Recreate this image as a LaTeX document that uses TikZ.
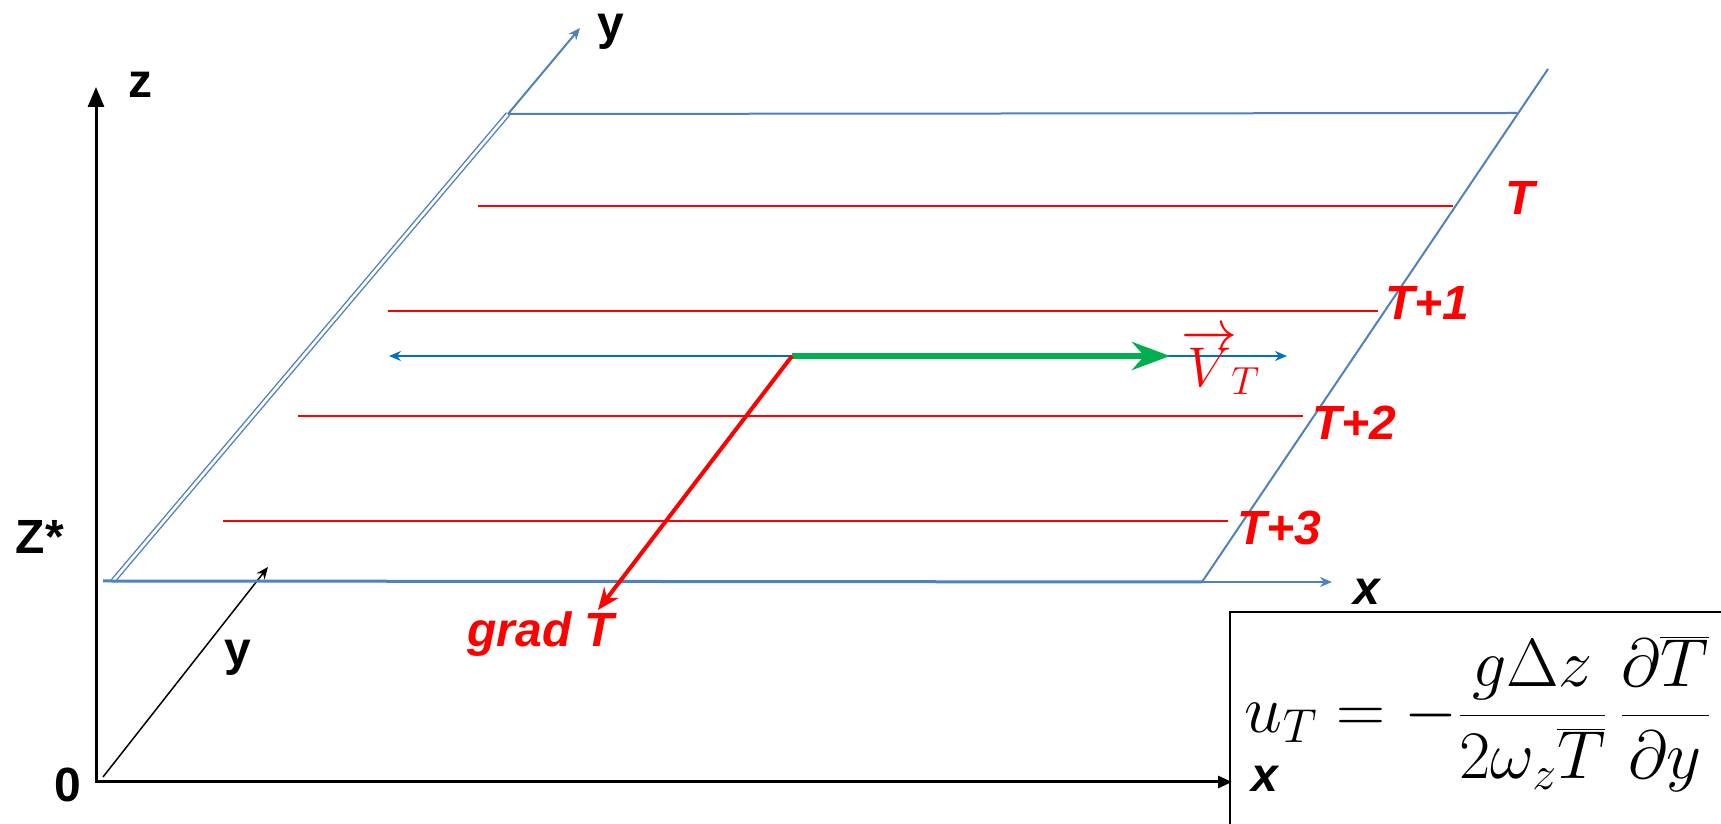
\RequirePackage{fix-cm}
\documentclass[tikz,border=0pt]{standalone}
\usepackage{fontspec}
\setmainfont{Liberation Serif}
\setsansfont{Liberation Sans}
\usetikzlibrary{arrows.meta,positioning}
\definecolor{planeblue}{HTML}{4F81BD}
\definecolor{flowblue}{HTML}{0070C0}
\definecolor{isored}{HTML}{FF0000}
\definecolor{windgreen}{HTML}{00B050}

\begin{document}
\begin{tikzpicture}[
  x=0.5pt, y=0.5pt,
  >={Stealth[length=6pt,width=5pt]},
  axis/.style={black, line width=1.5pt},
  edge/.style={planeblue, line width=1pt},
  iso/.style={isored, line width=1pt},
  lab/.style={inner sep=0pt, font=\fontsize{24}{28}\selectfont\sffamily\bfseries},
  tlab/.style={lab, isored, font=\fontsize{24}{28}\selectfont\sffamily\bfseries\itshape}
]
  \useasboundingbox (0,0) rectangle (1721,824);

  % axes
  \coordinate (o) at (96,42);
  \coordinate (ztip) at (96,737);
  \coordinate (xtip) at (1232,42);
  \coordinate (ybase) at (103,47);
  \coordinate (ytip) at (268,257);
  \draw[axis, {Triangle[length=10pt,width=8pt]}-{Triangle[length=7pt,width=6pt]}]
    (ztip) -- (o) -- (xtip);
  \draw[black, line width=0.75pt, ->] (ybase) -- (ytip);

  \node (zlab) [lab] at (140,739) {z};
  \node (zstar) [lab] at (40,287) {Z*};
  \node (olab) [lab] at (68,39) {0};
  \node (ylow) [lab] at (238,166) {y};

  % the plane z = z*
  \coordinate (pa) at (113,243);
  \coordinate (pb) at (508,710);
  \coordinate (pc) at (1517,711);
  \coordinate (pd) at (1202,242);
  \coordinate (pe) at (1548,755);
  \coordinate (yend) at (580,796);
  \coordinate (bstart) at (103,243);
  \coordinate (xend) at (1332,242);

  \draw[edge, line width=0.7pt, double=white, double distance=1.3pt] (pa) -- (pb);
  \draw[edge, ->] (pb) -- (yend);
  \draw[edge] (pb) -- (pc);
  \draw[edge] (pd) -- (pe);
  \draw[edge, line width=1.5pt] (bstart) -- (pd);
  \draw[edge, ->] (pd) -- (xend);

  \node (ytop) [lab] at (611,792) {y};
  \node (xlab) [lab, font=\fontsize{24}{28}\selectfont\sffamily\bfseries\itshape] at (1367,232) {x};

  % isotherms
  \foreach \i/\yy/\xa/\xb/\xl/\yl/\txt in {0/618/478/1453/1505/626/T,
      1/513/388/1378/1385/521/T+1, 2/408/298/1303/1312/401/T+2,
      3/303/223/1228/1237/296/T+3} {
    \coordinate (iso\i w) at (\xa,\yy);
    \coordinate (iso\i e) at (\xb,\yy);
    \draw[iso] (iso\i w) -- (iso\i e);
    \node (isolab\i) [tlab, anchor=west] at (\xl,\yl) {\txt};
  }

  % thermal wind and gradient
  \coordinate (vl) at (389,468);
  \coordinate (vr) at (1287,468);
  \coordinate (g0) at (792,468);
  \coordinate (g1) at (1170,468);
  \coordinate (gtip) at (598,214);
  \draw[flowblue, line width=0.8pt, <->] (vl) -- (vr);
  \draw[windgreen, line width=3pt, -{Stealth[length=19pt,width=14pt]}] (g0) -- (g1);
  \draw[isored, line width=2pt, -{Stealth[length=11pt,width=9pt]}] (g0) -- (gtip);

  \node (vlab) [inner sep=0pt, isored, font=\fontsize{28}{32}\selectfont] at (1221,462)
    {$\overrightarrow{V}_{\!T}$};
  \node (gradlab) [tlab] at (541,190) {grad T};

  % formula
  \coordinate (boxnw) at (1230,212);
  \coordinate (boxse) at (1730,-10);
  \draw[black, line width=1pt] (boxnw) rectangle (boxse);
  \node (eq) [inner sep=0pt, font=\fontsize{34}{40}\selectfont] at (1478,110)
    {$u_{T}=-\displaystyle\frac{g\Delta z}{2\omega_{z}\overline{T}}\,\frac{\partial\overline{T}}{\partial y}$};
  \node (xin) [lab, font=\fontsize{24}{28}\selectfont\sffamily\bfseries\itshape] at (1265,45) {x};
\end{tikzpicture}
\end{document}
